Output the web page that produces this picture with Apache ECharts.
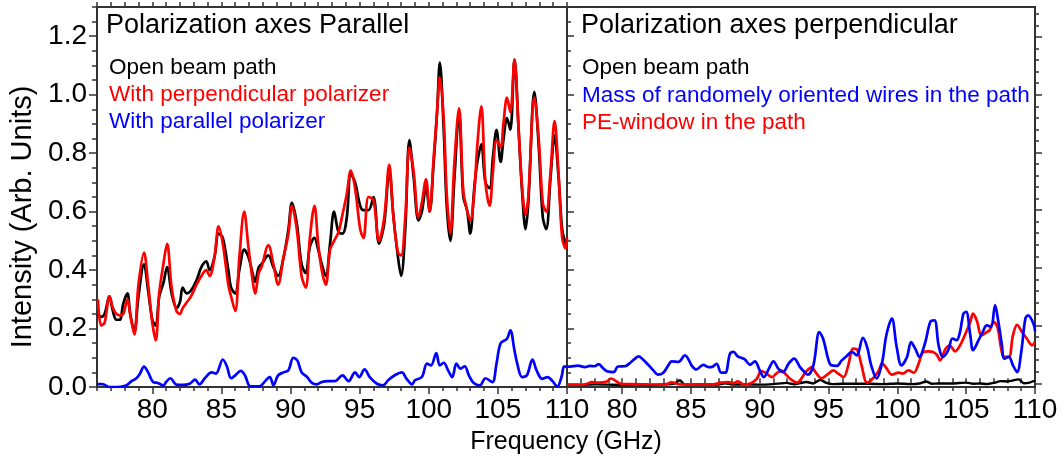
<!DOCTYPE html>
<html>
<head>
<meta charset="utf-8">
<script src="https://cdn.jsdelivr.net/npm/echarts@6/dist/echarts.min.js"></script>
<style>html,body{margin:0;padding:0;background:#fff}#c{width:1063px;height:465px}</style>
</head>
<body>
<div id="c"></div>
<script>
// ---------- data (frequency GHz, intensity arb. units) ----------
const FREQ_TICKS = [80, 85, 90, 95, 100, 105, 110];
const INTENSITY_TICKS = [0, 0.2, 0.4, 0.6, 0.8, 1.0, 1.2];

// Left panel: polarization axes parallel
const parOpen = [
[76.07,0.25],[76.3,0.24],[76.55,0.25],[76.9,0.31],[77.15,0.26],[77.4,0.23],[77.65,0.23],[77.9,0.285],
[78.2,0.32],[78.4,0.25],[78.7,0.19],[79.0,0.31],[79.4,0.42],[79.7,0.33],[80.0,0.23],[80.25,0.21],
[80.5,0.31],[80.8,0.355],[81.07,0.41],[81.4,0.32],[81.75,0.27],[82.0,0.29],[82.2,0.34],[82.5,0.32],
[82.8,0.33],[83.2,0.365],[83.55,0.41],[83.9,0.43],[84.15,0.40],[84.5,0.445],[84.8,0.525],[85.1,0.51],
[85.5,0.40],[85.7,0.34],[86.0,0.32],[86.3,0.40],[86.65,0.47],[86.95,0.445],[87.3,0.38],[87.43,0.36],
[87.7,0.41],[87.9,0.42],[88.4,0.45],[88.76,0.41],[89.1,0.38],[89.5,0.445],[89.85,0.54],[90.1,0.63],
[90.45,0.56],[90.8,0.42],[91.1,0.39],[91.4,0.48],[91.73,0.51],[92.0,0.47],[92.26,0.42],[92.55,0.38],
[92.86,0.49],[93.15,0.60],[93.47,0.53],[93.76,0.525],[94.07,0.58],[94.36,0.73],[94.67,0.70],[95.04,0.62],
[95.28,0.605],[95.64,0.605],[96.0,0.65],[96.4,0.49],[96.78,0.56],[97.14,0.74],[97.45,0.58],[97.77,0.445],
[98.0,0.38],[98.3,0.54],[98.6,0.845],[98.9,0.72],[99.26,0.57],[99.5,0.60],[99.8,0.685],[100.06,0.60],
[100.35,0.765],[100.6,0.94],[100.8,1.11],[101.08,0.88],[101.3,0.62],[101.56,0.50],[101.85,0.71],[102.19,0.936],
[102.5,0.65],[102.77,0.605],[103.0,0.525],[103.3,0.685],[103.5,0.765],[103.8,0.83],[104.1,0.70],[104.4,0.68],
[104.65,0.79],[104.9,0.88],[105.2,0.77],[105.4,0.845],[105.66,0.92],[105.9,0.88],[106.2,1.12],[106.5,0.88],
[106.75,0.67],[107.0,0.54],[107.2,0.63],[107.64,1.01],[107.96,0.82],[108.25,0.58],[108.5,0.54],[108.8,0.71],
[109.1,0.86],[109.4,0.71],[109.65,0.54],[109.9,0.49],[110.0,0.48]
];
const parPerpPol = [
[76.07,0.30],[76.3,0.21],[76.55,0.22],[76.9,0.31],[77.15,0.27],[77.4,0.25],[77.65,0.245],[77.9,0.25],
[78.2,0.30],[78.4,0.25],[78.7,0.18],[79.0,0.35],[79.4,0.46],[79.7,0.35],[80.0,0.22],[80.25,0.16],
[80.5,0.32],[80.8,0.42],[81.07,0.49],[81.4,0.34],[81.75,0.26],[82.0,0.25],[82.2,0.27],[82.5,0.29],
[82.8,0.31],[83.2,0.35],[83.55,0.38],[83.9,0.40],[84.15,0.38],[84.5,0.445],[84.8,0.55],[85.1,0.49],
[85.5,0.35],[85.7,0.31],[86.0,0.26],[86.3,0.445],[86.65,0.60],[86.95,0.48],[87.3,0.35],[87.43,0.32],
[87.7,0.39],[87.9,0.41],[88.4,0.485],[88.76,0.42],[89.1,0.35],[89.5,0.445],[89.85,0.525],[90.1,0.62],
[90.45,0.54],[90.8,0.38],[91.1,0.34],[91.4,0.51],[91.73,0.62],[92.0,0.49],[92.26,0.40],[92.55,0.35],
[92.86,0.47],[93.15,0.50],[93.47,0.53],[93.76,0.59],[94.07,0.66],[94.36,0.74],[94.67,0.68],[95.04,0.54],
[95.28,0.51],[95.64,0.65],[96.0,0.64],[96.4,0.50],[96.78,0.58],[97.14,0.76],[97.45,0.58],[97.77,0.46],
[98.0,0.45],[98.3,0.58],[98.6,0.82],[98.9,0.74],[99.26,0.58],[99.5,0.63],[99.8,0.71],[100.06,0.60],
[100.35,0.78],[100.6,0.94],[100.8,1.06],[101.08,0.92],[101.3,0.66],[101.56,0.525],[101.85,0.765],[102.19,0.953],
[102.5,0.67],[102.77,0.605],[103.0,0.57],[103.3,0.67],[103.5,0.82],[103.8,0.96],[104.1,0.70],[104.4,0.62],
[104.65,0.74],[104.9,0.845],[105.2,0.82],[105.4,0.90],[105.66,0.99],[105.9,0.94],[106.2,1.12],[106.5,0.88],
[106.75,0.685],[107.0,0.59],[107.2,0.65],[107.64,0.99],[107.96,0.845],[108.25,0.63],[108.5,0.60],[108.8,0.73],
[109.1,0.91],[109.4,0.72],[109.65,0.51],[109.9,0.475],[110.0,0.51]
];
const parParPol = [
[76.0,0.01],[76.4,0.01],[76.9,0.0],[77.5,0.0],[78.1,0.005],[78.5,0.02],[78.85,0.03],[79.1,0.045],
[79.4,0.07],[79.7,0.05],[80.06,0.017],[80.4,0.014],[80.8,0.005],[81.0,0.017],[81.3,0.03],[81.75,0.008],
[82.2,0.007],[82.7,0.011],[83.1,0.025],[83.4,0.009],[83.8,0.03],[84.3,0.05],[84.6,0.046],[85.1,0.094],
[85.4,0.07],[85.7,0.03],[86.0,0.04],[86.4,0.055],[86.7,0.04],[87.1,0.002],[87.7,0.002],[87.9,0.006],
[88.5,0.034],[88.76,0.006],[89.1,0.04],[89.5,0.05],[89.85,0.057],[90.2,0.10],[90.5,0.09],[90.8,0.05],
[91.2,0.034],[91.55,0.014],[91.9,0.009],[92.26,0.017],[92.7,0.02],[93.2,0.02],[93.76,0.04],[94.2,0.02],
[94.67,0.05],[94.97,0.034],[95.35,0.06],[95.76,0.032],[96.25,0.011],[96.7,0.006],[97.1,0.025],[97.6,0.042],
[98.05,0.05],[98.4,0.028],[98.8,0.009],[99.0,0.023],[99.5,0.034],[99.87,0.08],[100.16,0.074],[100.54,0.116],
[100.8,0.074],[101.08,0.083],[101.4,0.057],[101.7,0.034],[102.0,0.08],[102.3,0.063],[102.6,0.071],[102.9,0.04],
[103.25,0.014],[103.7,0.006],[104.1,0.03],[104.6,0.017],[104.9,0.08],[105.2,0.15],[105.66,0.165],[105.9,0.194],
[106.2,0.125],[106.4,0.08],[106.75,0.034],[107.1,0.04],[107.5,0.094],[107.8,0.057],[108.2,0.028],[108.6,0.034],
[108.9,0.023],[109.3,0.002],[109.6,0.034],[109.8,0.071],[110.0,0.068]
];

// Right panel: polarization axes perpendicular
const perpOpen = [
[76.0,0.008],[77.0,0.007],[78.0,0.009],[79.0,0.008],[80.0,0.007],[81.0,0.008],[82.0,0.007],[83.0,0.009],
[83.8,0.012],[84.2,0.023],[84.5,0.01],[85.0,0.008],[86.0,0.009],[87.0,0.008],[87.5,0.013],[88.0,0.008],
[89.0,0.009],[90.0,0.008],[91.0,0.01],[91.96,0.014],[92.5,0.009],[93.4,0.017],[93.9,0.012],[94.4,0.025],
[94.8,0.015],[95.3,0.01],[96.0,0.011],[97.0,0.011],[98.0,0.011],[99.0,0.01],[100.0,0.012],[101.0,0.01],
[101.6,0.012],[102.1,0.019],[102.5,0.011],[103.0,0.012],[104.0,0.012],[105.0,0.015],[105.5,0.011],[106.0,0.012],
[106.5,0.01],[107.0,0.014],[107.5,0.02],[108.0,0.019],[108.8,0.026],[109.2,0.013],[109.6,0.015],[109.9,0.02],[110.0,0.02]
];
const perpWires = [
[76.0,0.07],[76.2,0.07],[76.8,0.073],[77.3,0.068],[77.67,0.072],[78.0,0.071],[78.3,0.078],[78.64,0.063],
[78.9,0.054],[79.4,0.051],[79.7,0.07],[80.2,0.071],[80.6,0.083],[80.94,0.097],[81.2,0.105],[81.5,0.095],
[81.9,0.076],[82.27,0.057],[82.6,0.042],[83.0,0.049],[83.36,0.074],[83.6,0.088],[84.1,0.086],[84.57,0.108],
[84.8,0.097],[85.05,0.074],[85.4,0.06],[85.9,0.076],[86.27,0.068],[86.5,0.068],[86.87,0.079],[87.2,0.049],
[87.5,0.049],[87.84,0.114],[88.1,0.12],[88.4,0.105],[88.9,0.095],[89.3,0.076],[89.65,0.088],[90.0,0.057],
[90.3,0.034],[90.67,0.063],[91.0,0.088],[91.35,0.063],[91.7,0.051],[92.1,0.08],[92.5,0.097],[92.93,0.068],
[93.3,0.049],[93.5,0.042],[93.9,0.074],[94.33,0.188],[94.6,0.166],[95.0,0.091],[95.2,0.074],[95.6,0.072],
[95.96,0.091],[96.3,0.105],[96.7,0.12],[97.05,0.108],[97.5,0.168],[97.8,0.137],[98.1,0.074],[98.5,0.029],
[98.9,0.086],[99.2,0.177],[99.6,0.234],[99.95,0.137],[100.3,0.074],[100.7,0.103],[101.0,0.154],[101.3,0.131],
[101.6,0.103],[102.0,0.148],[102.4,0.223],[102.7,0.228],[103.0,0.142],[103.3,0.103],[103.7,0.126],[104.0,0.166],
[104.3,0.16],[104.55,0.188],[104.8,0.251],[105.0,0.257],[105.3,0.177],[105.5,0.126],[105.9,0.16],[106.2,0.188],
[106.5,0.211],[106.8,0.206],[107.1,0.28],[107.3,0.234],[107.6,0.142],[107.75,0.097],[108.1,0.103],[108.4,0.074],
[108.7,0.051],[109.0,0.12],[109.3,0.234],[109.5,0.245],[109.9,0.215],[110.0,0.19]
];
const perpPE = [
[76.0,0.008],[77.0,0.008],[77.4,0.01],[77.8,0.017],[78.3,0.015],[78.9,0.019],[79.2,0.029],[79.6,0.019],
[80.0,0.01],[80.7,0.01],[81.7,0.009],[83.1,0.008],[83.6,0.016],[84.1,0.01],[84.57,0.009],[85.5,0.008],
[86.5,0.008],[87.2,0.015],[87.7,0.017],[88.1,0.013],[88.4,0.019],[88.9,0.008],[89.4,0.014],[89.8,0.029],
[90.1,0.054],[90.4,0.049],[90.9,0.034],[91.2,0.046],[91.6,0.056],[91.96,0.04],[92.3,0.025],[92.7,0.015],
[92.93,0.023],[93.4,0.054],[93.8,0.068],[94.0,0.054],[94.5,0.03],[95.0,0.046],[95.35,0.057],[95.7,0.046],
[96.1,0.034],[96.4,0.068],[96.8,0.131],[97.1,0.126],[97.4,0.074],[97.8,0.015],[98.1,0.023],[98.6,0.051],
[98.9,0.08],[99.2,0.065],[99.6,0.042],[100.1,0.049],[100.4,0.046],[100.8,0.057],[101.2,0.049],[101.5,0.074],
[101.9,0.12],[102.25,0.122],[102.6,0.12],[102.9,0.108],[103.1,0.091],[103.5,0.131],[103.8,0.142],[104.2,0.122],
[104.55,0.142],[104.9,0.177],[105.3,0.223],[105.5,0.251],[105.8,0.223],[106.1,0.177],[106.5,0.188],[106.7,0.194],
[107.0,0.223],[107.3,0.2],[107.5,0.142],[107.75,0.103],[108.1,0.103],[108.4,0.177],[108.7,0.213],[109.05,0.188],
[109.4,0.166],[109.8,0.143],[110.0,0.155]
];

// ---------- chart ----------
const FONT = '"Liberation Sans", Arial, sans-serif';
const AX = '#333333';
const chart = echarts.init(document.getElementById('c'), null, {renderer: 'canvas'});

const rightMinor = [];
for (let i = 1; i <= 32; i++) { if (i % 5 !== 0) rightMinor.push(+(i * 0.04).toFixed(2)); }

function xAxes(grid) {
  return [
    { gridIndex: grid, type: 'value', min: 76, max: 110, position: 'bottom',
      axisLine: {show: false}, splitLine: {show: false},
      axisTick: {show: true, length: 7, customValues: FREQ_TICKS, lineStyle: {color: AX, width: 1.5}},
      axisLabel: {show: true, customValues: FREQ_TICKS, margin: 9, color: '#000', fontSize: 28, fontFamily: FONT} },
    { gridIndex: grid, type: 'value', min: 76, max: 110, interval: 1, position: 'bottom',
      axisLine: {show: false}, splitLine: {show: false}, axisLabel: {show: false},
      axisTick: {show: true, length: 4, lineStyle: {color: AX, width: 1.5}} },
    { gridIndex: grid, type: 'value', min: 76, max: 110, interval: 1, position: 'top',
      axisLine: {show: false}, splitLine: {show: false}, axisLabel: {show: false},
      axisTick: {show: true, length: 5, lineStyle: {color: AX, width: 1.5}} }
  ];
}

const option = {
  animation: false,
  backgroundColor: '#fff',
  grid: [
    {left: 97, top: 7, width: 470, height: 380, show: true, borderColor: AX, borderWidth: 2, backgroundColor: 'transparent'},
    {left: 567, top: 7, width: 468, height: 380, show: true, borderColor: AX, borderWidth: 2, backgroundColor: 'transparent'}
  ],
  xAxis: [...xAxes(0), ...xAxes(1)],
  yAxis: [
    { gridIndex: 0, type: 'value', min: 0, max: 1.3, position: 'left',
      axisLine: {show: false}, splitLine: {show: false},
      axisTick: {show: true, length: 8, customValues: INTENSITY_TICKS, lineStyle: {color: AX, width: 1.5}},
      axisLabel: {show: true, customValues: INTENSITY_TICKS, margin: 10, color: '#000', fontSize: 28, fontFamily: FONT,
                  formatter: v => v.toFixed(1)} },
    { gridIndex: 0, type: 'value', min: 0, max: 1.3, interval: 0.05, position: 'left',
      axisLine: {show: false}, splitLine: {show: false}, axisLabel: {show: false},
      axisTick: {show: true, length: 5, lineStyle: {color: AX, width: 1.5}} },
    { gridIndex: 1, type: 'value', min: 0, max: 1.3, position: 'left',
      axisLine: {show: false}, splitLine: {show: false}, axisLabel: {show: false},
      axisTick: {show: true, inside: true, length: 7, customValues: INTENSITY_TICKS, lineStyle: {color: AX, width: 1.5}} },
    { gridIndex: 1, type: 'value', min: 0, max: 1.3, interval: 0.05, position: 'left',
      axisLine: {show: false}, splitLine: {show: false}, axisLabel: {show: false},
      axisTick: {show: true, inside: true, length: 4, lineStyle: {color: AX, width: 1.5}} },
    { gridIndex: 1, type: 'value', min: -0.0128, max: 1.304, position: 'right',
      axisLine: {show: false}, splitLine: {show: false}, axisLabel: {show: false},
      axisTick: {show: true, length: 7, customValues: INTENSITY_TICKS, lineStyle: {color: AX, width: 1.5}} },
    { gridIndex: 1, type: 'value', min: -0.0128, max: 1.304, position: 'right',
      axisLine: {show: false}, splitLine: {show: false}, axisLabel: {show: false},
      axisTick: {show: true, length: 4, customValues: rightMinor, lineStyle: {color: AX, width: 1.5}} }
  ],
  series: [
    {name: 'Open beam path', type: 'line', xAxisIndex: 0, yAxisIndex: 0, data: parOpen, smooth: 0.35, symbol: 'none',
     lineStyle: {color: '#000000', width: 2.7}},
    {name: 'With perpendicular polarizer', type: 'line', xAxisIndex: 0, yAxisIndex: 0, data: parPerpPol, smooth: 0.35, symbol: 'none',
     lineStyle: {color: '#ff0000', width: 2.7}},
    {name: 'With parallel polarizer', type: 'line', xAxisIndex: 0, yAxisIndex: 0, data: parParPol, smooth: 0.35, symbol: 'none',
     lineStyle: {color: '#0000ff', width: 2.7}},
    {name: 'Open beam path (perp)', type: 'line', xAxisIndex: 3, yAxisIndex: 2, data: perpOpen, smooth: 0.2, symbol: 'none',
     lineStyle: {color: '#000000', width: 2.4}},
    {name: 'PE-window in the path', type: 'line', xAxisIndex: 3, yAxisIndex: 2, data: perpPE, smooth: 0.35, symbol: 'none',
     lineStyle: {color: '#ff0000', width: 2.7}},
    {name: 'Mass of randomely oriented wires in the path', type: 'line', xAxisIndex: 3, yAxisIndex: 2, data: perpWires, smooth: 0.35, symbol: 'none',
     lineStyle: {color: '#0000ff', width: 2.7}}
  ],
  graphic: [
    {type: 'text', left: 106, top: 12, z: 100, style: {text: 'Polarization axes Parallel', font: '27px ' + FONT, fill: '#000'}},
    {type: 'text', left: 109, top: 56, z: 100, style: {text: 'Open beam path', font: '22.5px ' + FONT, fill: '#000'}},
    {type: 'text', left: 109, top: 83, z: 100, style: {text: 'With perpendicular polarizer', font: '22.5px ' + FONT, fill: '#ff0000'}},
    {type: 'text', left: 109, top: 110, z: 100, style: {text: 'With parallel polarizer', font: '22.5px ' + FONT, fill: '#0000ff'}},
    {type: 'text', left: 581, top: 12, z: 100, style: {text: 'Polarization axes perpendicular', font: '27px ' + FONT, fill: '#000'}},
    {type: 'text', left: 582, top: 56, z: 100, style: {text: 'Open beam path', font: '22.5px ' + FONT, fill: '#000'}},
    {type: 'text', left: 582, top: 84, z: 100, style: {text: 'Mass of randomely oriented wires in the path', font: '22.5px ' + FONT, fill: '#0000ff'}},
    {type: 'text', left: 582, top: 111, z: 100, style: {text: 'PE-window in the path', font: '22.5px ' + FONT, fill: '#ff0000'}},
    {type: 'text', x: 566, y: 442, z: 100, style: {text: 'Frequency (GHz)', font: '25px ' + FONT, fill: '#000', align: 'center', verticalAlign: 'middle'}},
    {type: 'text', x: 23, y: 217, rotation: Math.PI / 2, z: 100, style: {text: 'Intensity (Arb. Units)', font: '29px ' + FONT, fill: '#000', align: 'center', verticalAlign: 'middle'}}
  ]
};
chart.setOption(option);
</script>
</body>
</html>
